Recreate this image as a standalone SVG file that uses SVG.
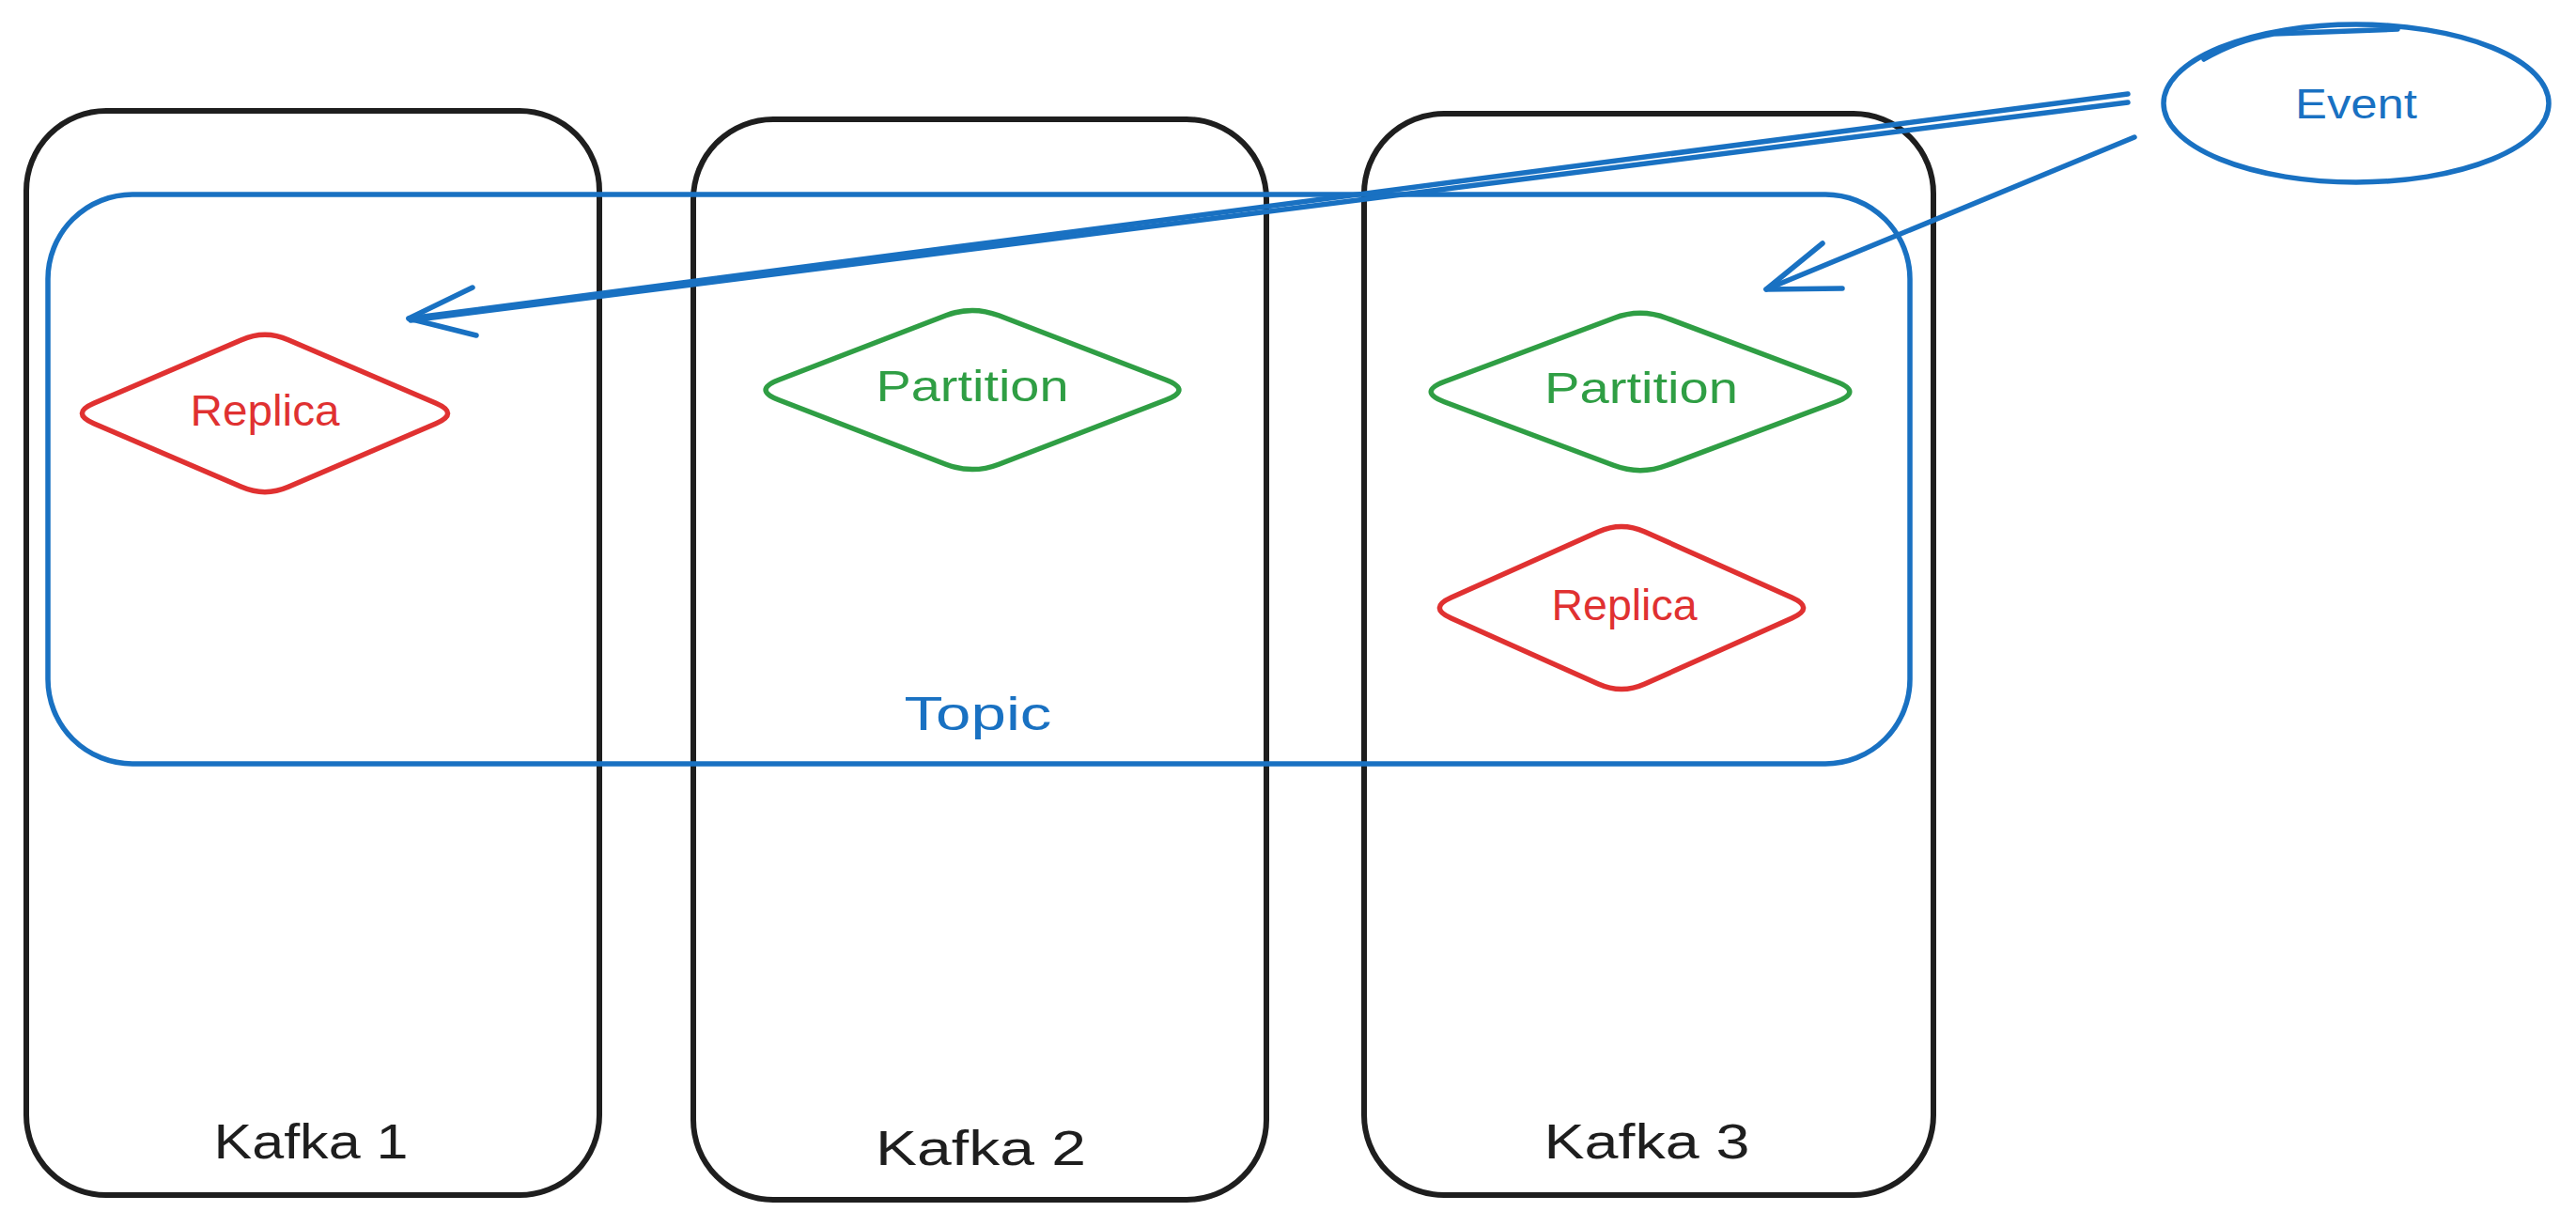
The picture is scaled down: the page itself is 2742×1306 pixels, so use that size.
<svg xmlns="http://www.w3.org/2000/svg" width="2742" height="1306" viewBox="0 0 2742 1306">
  <style>
    .box { fill: none; stroke: #1e1e1e; stroke-width: 6; stroke-linejoin: round; }
    .topic { fill: none; stroke: #1971c2; stroke-width: 5.5; }
    .part { fill: none; stroke: #2f9e44; stroke-width: 5.5; stroke-linejoin: round; }
    .rep { fill: none; stroke: #e03131; stroke-width: 5.5; stroke-linejoin: round; }
    .ev { fill: none; stroke: #1971c2; stroke-width: 5.5; stroke-linecap: round; }
    .conn { fill: none; stroke: #1971c2; stroke-width: 5.5; stroke-linecap: round; stroke-linejoin: round; }
    text { font-family: "Liberation Sans", "DejaVu Sans", sans-serif; text-anchor: middle; }
    .lk { font-size: 52px; fill: #1e1e1e; }
    .lp { font-size: 46px; fill: #2f9e44; }
    .lr { font-size: 46px; fill: #e03131; }
    .lb { fill: #1971c2; }
  </style>

  <g id="kafka1">
    <rect class="box" x="28" y="118" width="610" height="1154" rx="85" ry="85"/>
    <text class="lk" x="331" y="1233" textLength="207" lengthAdjust="spacingAndGlyphs">Kafka 1</text>
  </g>
  <g id="kafka2">
    <rect class="box" x="738" y="127" width="610" height="1150" rx="85" ry="85"/>
    <text class="lk" x="1044" y="1240" textLength="224" lengthAdjust="spacingAndGlyphs">Kafka 2</text>
  </g>
  <g id="kafka3">
    <rect class="box" x="1452" y="121" width="606" height="1151" rx="85" ry="85"/>
    <text class="lk" x="1753" y="1233" textLength="219" lengthAdjust="spacingAndGlyphs">Kafka 3</text>
  </g>

  <g id="topic">
    <rect class="topic" x="51" y="207" width="1982" height="606" rx="90" ry="90"/>
    <text class="lb" x="1041" y="777" font-size="50" textLength="157" lengthAdjust="spacingAndGlyphs">Topic</text>
  </g>

  <g id="replica1">
    <path class="rep" d="M 306.8,361.7 L 464.2,429.3 Q 489,440 464.2,450.7 L 306.8,518.3 Q 282,529 257.2,518.3 L 99.8,450.7 Q 75,440 99.8,429.3 L 257.2,361.7 Q 282,351 306.8,361.7 Z"/>
    <text class="lr" x="282" y="453" textLength="159" lengthAdjust="spacingAndGlyphs">Replica</text>
  </g>

  <g id="partition2">
    <path class="part" d="M 1063.1,335.8 L 1240.9,404.2 Q 1269,415 1240.9,425.8 L 1063.1,494.2 Q 1035,505 1006.9,494.2 L 829.1,425.8 Q 801,415 829.1,404.2 L 1006.9,335.8 Q 1035,325 1063.1,335.8 Z"/>
    <text class="lp" x="1035" y="427" textLength="205" lengthAdjust="spacingAndGlyphs">Partition</text>
  </g>

  <g id="partition3">
    <path class="part" d="M 1774.4,338.7 L 1954.6,406.3 Q 1983,417 1954.6,427.7 L 1774.4,495.3 Q 1746,506 1717.6,495.3 L 1537.4,427.7 Q 1509,417 1537.4,406.3 L 1717.6,338.7 Q 1746,328 1774.4,338.7 Z"/>
    <text class="lp" x="1747" y="429" textLength="206" lengthAdjust="spacingAndGlyphs">Partition</text>
  </g>

  <g id="replica3">
    <path class="rep" d="M 1750.7,566 L 1907.3,636 Q 1932,647 1907.3,658 L 1750.7,728 Q 1726,739 1701.3,728 L 1544.7,658 Q 1520,647 1544.7,636 L 1701.3,566 Q 1726,555 1750.7,566 Z"/>
    <text class="lr" x="1729" y="660" textLength="155" lengthAdjust="spacingAndGlyphs">Replica</text>
  </g>

  <g id="event">
    <ellipse class="ev" cx="2508" cy="110" rx="205" ry="84"/>
    <path class="ev" d="M 2346,63 Q 2380,43 2420,36 L 2552,31" stroke-width="4"/>
    <text class="lb" x="2508" y="126" font-size="44" textLength="130" lengthAdjust="spacingAndGlyphs">Event</text>
  </g>

  <g id="connectors">
    <path class="conn" d="M 2265,100 L 435,339" stroke-width="6"/>
    <path class="conn" d="M 2265,109 L 437,341" stroke-width="5"/>
    <path class="conn" d="M 503,306 L 435,339 L 507,357"/>
    <path class="conn" d="M 2272,146 L 1880,308" stroke-width="6"/>
    <path class="conn" d="M 1940,259 L 1880,308 L 1961,307"/>
  </g>
</svg>
